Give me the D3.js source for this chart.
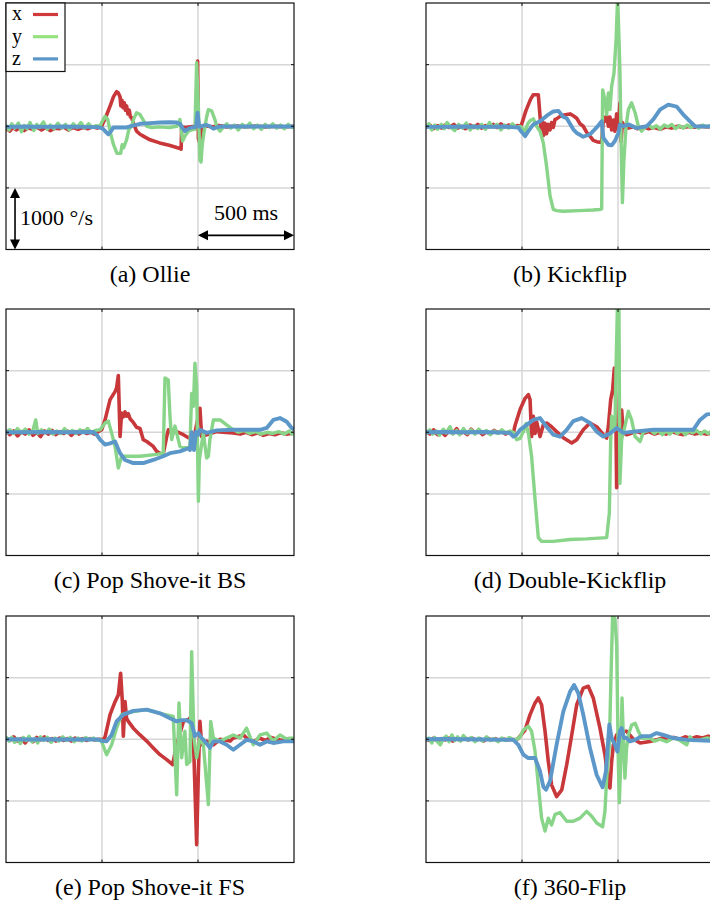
<!DOCTYPE html>
<html>
<head>
<meta charset="utf-8">
<script src="https://cdn.jsdelivr.net/npm/d3@7"></script>
<style>
  body { margin: 0; background: #fff; }
  svg { display: block; font-family: "Liberation Serif", "DejaVu Serif", serif; }
</style>
</head>
<body>
<svg id="chart" width="710" height="903"></svg>
<script>
// gyro traces, [time in ms, rate in deg/s]

// (a) Ollie
var ollieX = [[0,-30],[20,-80],[35,-20],[55,-60],[75,-10],[95,-70],[115,-30],[140,-50],[160,-10],[185,-60],[205,-20],[230,-70],[255,-30],[280,-40],[300,-10],[325,-60],[350,-20],[375,-50],[400,-20],[425,-40],[450,-10],[475,-30],[490,-10],
  [498,0],[520,150],[545,350],[560,480],[576,560],[585,540],[594,480],[598,330],[604,420],[610,300],[616,380],[622,260],[628,330],[635,200],[642,260],[648,150],[654,140],[665,40],[680,-80],[698,-130],[715,-160],[750,-220],[800,-270],[850,-310],[906,-360],[912,-370],[915,-10],[935,-20],[960,-10],[985,0],[995,-30],[998,1060],[1002,-200],[1008,-260],[1013,-160],[1020,-20],[1030,10],[1050,0],
  [1080,-10],[1110,10],[1150,-10],[1200,5],[1250,-10],[1300,5],[1350,-10],[1400,0],[1450,-10],[1500,0]];
var ollieY = [[0,20],[15,-60],[30,40],[45,-30],[65,50],[80,-90],[95,10],[110,-40],[125,60],[145,-70],[160,30],[175,-20],[195,70],[215,-50],[230,20],[250,-40],[270,50],[290,-30],[310,30],[330,-60],[350,40],[370,-20],[390,60],[410,-30],[430,40],[450,-20],[470,10],[490,0],
  [498,60],[516,160],[530,110],[545,-120],[560,-300],[578,-440],[597,-440],[605,-300],[612,-350],[628,-220],[640,-50],[654,0],[665,120],[680,220],[698,190],[715,100],[733,0],[760,-20],[800,-10],[850,-20],[890,0],[906,110],[920,-240],[932,-160],[950,-80],[967,-60],[984,-50],[993,1030],[1002,300],[1010,-550],[1016,-580],[1022,-300],[1031,-100],[1045,150],[1054,270],[1071,250],[1089,100],[1097,0],[1115,-80],[1130,-20],
  [1150,40],[1170,-30],[1190,20],[1210,-60],[1230,30],[1250,-20],[1270,50],[1290,-40],[1310,20],[1330,-50],[1350,30],[1370,-20],[1390,40],[1410,-30],[1430,20],[1450,-40],[1470,30],[1490,-20],[1500,0]];
var ollieZ = [[0,-10],[100,-5],[200,-10],[300,-5],[400,-10],[480,-15],[505,-40],[520,-90],[533,-130],[545,-90],[559,-20],[594,-20],[628,-20],[660,10],[698,40],[750,50],[802,60],[854,65],[889,60],[906,40],[920,-30],[932,-80],[950,-40],[967,-20],[990,-10],[998,220],[1004,40],[1010,-10],[1028,10],[1045,20],[1062,0],[1080,-40],[1097,-20],[1115,-5],[1200,-5],[1300,-5],[1400,-5],[1500,-5]];

// (b) Kickflip
var kickflipX = [[0,-20],[20,20],[40,-40],[60,10],[80,-30],[100,20],[120,-20],[145,30],[165,-30],[185,0],[205,-40],[230,20],[250,-20],[270,30],[290,-30],[310,10],[330,-10],[350,30],[370,-20],[390,40],[410,-10],[430,20],[455,-10],[475,10],[490,0],
  [498,30],[520,250],[545,440],[559,510],[585,510],[594,160],[600,-100],[606,80],[612,-150],[620,50],[628,-120],[637,30],[646,-60],[654,60],[663,-20],[672,110],[680,120],[698,160],[715,180],[733,190],[750,200],[767,170],[785,130],[802,40],[819,0],[837,-100],[854,-160],[871,-230],[889,-250],[906,-260],[915,-250],[924,150],[932,80],[941,170],[950,0],[958,150],[967,-60],[976,100],[984,-80],[993,200],[1002,-50],[1010,380],[1016,-250],[1023,60],[1036,-20],[1054,-30],
  [1080,-10],[1100,-40],[1130,-10],[1160,-40],[1190,-20],[1220,-50],[1250,-10],[1280,-30],[1310,0],[1340,-20],[1370,-5],[1400,-15],[1430,0],[1460,-10],[1500,0]];
var kickflipY = [[0,-30],[15,40],[30,-60],[45,20],[60,-50],[80,30],[95,-40],[110,60],[130,-20],[150,-70],[170,30],[190,-30],[210,50],[230,-60],[250,10],[270,-40],[290,30],[310,-50],[330,60],[350,-20],[370,30],[390,-60],[410,20],[430,-30],[450,40],[470,-20],[490,0],
  [498,-20],[516,-80],[530,40],[542,90],[559,120],[576,0],[594,-80],[611,-270],[628,-650],[646,-1130],[663,-1350],[680,-1370],[715,-1380],[800,-1370],[870,-1360],[906,-1350],[915,-1340],[920,590],[932,430],[941,190],[950,540],[958,270],[967,650],[979,860],[990,1400],[998,2100],[1007,1240],[1010,890],[1016,-220],[1023,-1240],[1031,-540],[1042,0],[1054,270],[1071,380],[1089,220],[1106,0],[1123,-80],[1140,-20],
  [1160,20],[1180,-30],[1200,10],[1220,-50],[1240,20],[1260,-10],[1280,30],[1300,-40],[1320,10],[1340,-30],[1360,20],[1380,-20],[1400,10],[1420,-30],[1440,20],[1460,-10],[1480,10],[1500,0]];
var kickflipZ = [[0,-10],[100,-10],[200,-5],[300,-10],[400,-5],[481,-20],[490,-60],[516,-160],[533,-80],[559,30],[594,80],[637,190],[663,240],[689,250],[715,150],[733,130],[767,-50],[785,-110],[819,-170],[854,-130],[889,-20],[915,80],[924,-190],[950,-300],[967,-310],[984,-240],[1002,-110],[1010,30],[1028,0],[1054,30],[1097,-30],[1149,0],[1184,110],[1219,270],[1262,350],[1305,320],[1340,190],[1375,80],[1401,0],[1450,-5],[1500,-5]];

// (c) Pop Shove-it BS
var shoveBsX = [[0,30],[20,-40],[40,20],[60,-60],[80,10],[100,-30],[120,40],[140,-50],[160,0],[180,-70],[200,20],[220,-30],[240,30],[260,-40],[280,10],[300,-20],[320,20],[340,-50],[360,10],[380,-30],[400,20],[420,-20],[440,0],[460,-30],[480,10],[498,40],
  [516,200],[542,530],[568,660],[576,720],[585,920],[594,-70],[602,310],[611,250],[620,330],[628,260],[637,300],[646,220],[663,160],[680,80],[698,60],[715,-120],[733,-150],[767,-230],[785,-310],[802,-340],[819,-350],[837,-70],[846,40],[863,-10],[889,10],[924,-40],[950,-90],[967,-70],[984,-10],[1010,390],[1019,-70],[1045,-40],[1097,10],[1184,-10],
  [1220,-30],[1250,0],[1280,-40],[1310,-10],[1340,-50],[1370,-20],[1400,-40],[1430,-10],[1460,-30],[1500,-10]];
var shoveBsY = [[0,0],[20,40],[40,-20],[60,60],[80,-10],[100,50],[120,-30],[140,30],[155,200],[165,-20],[185,40],[205,-10],[225,50],[245,-30],[265,20],[285,-20],[305,60],[325,-10],[345,30],[365,-20],[385,40],[405,0],[425,60],[445,-10],[465,30],[490,40],
  [516,150],[533,180],[550,-10],[568,-230],[585,-580],[602,-390],[628,-390],[698,-390],[785,-360],[819,-340],[828,880],[845,850],[854,260],[863,-120],[880,100],[906,-230],[924,-250],[958,-230],[967,630],[976,420],[984,1120],[993,740],[1002,-1120],[1007,-450],[1028,-10],[1045,-420],[1054,-390],[1062,-120],[1080,200],[1115,200],[1149,120],[1184,40],
  [1210,0],[1240,30],[1270,-20],[1300,10],[1330,-30],[1360,0],[1390,-20],[1420,10],[1450,-30],[1475,20],[1490,-30],[1500,0]];
var shoveBsZ = [[0,0],[100,0],[200,5],[300,0],[455,5],[472,-40],[490,-120],[516,-200],[542,-180],[568,-150],[594,-340],[620,-450],[663,-500],[715,-500],[767,-450],[819,-390],[854,-340],[906,-310],[950,-260],[958,-290],[967,0],[979,-290],[990,10],[1002,-40],[1010,40],[1045,-10],[1097,30],[1184,40],[1323,40],[1358,70],[1392,200],[1427,230],[1462,170],[1488,70],[1500,40]];

// (d) Double-Kickflip
var doubleX = [[0,20],[20,-30],[40,40],[60,-40],[80,10],[100,-50],[120,30],[140,-20],[160,60],[175,-30],[195,10],[215,-40],[235,50],[255,-20],[275,20],[295,-40],[315,10],[335,-30],[355,30],[375,-10],[395,20],[415,-30],[435,10],[455,-20],
  [463,100],[490,370],[516,550],[533,610],[542,530],[550,-70],[559,260],[568,-20],[576,170],[594,-70],[611,120],[628,150],[654,90],[680,10],[715,-90],[759,-175],[785,-120],[819,40],[854,150],[889,90],[924,-40],[941,-95],[950,100],[962,530],[972,690],[981,1040],[988,530],[993,-900],[1002,-290],[1010,200],[1019,360],[1028,-10],[1045,-40],[1097,10],
  [1130,-20],[1160,10],[1190,-30],[1220,0],[1250,-30],[1280,10],[1310,-20],[1340,-40],[1370,0],[1400,-30],[1430,-10],[1460,-30],[1500,-10]];
var doubleY = [[0,-20],[20,40],[35,-30],[55,20],[70,-50],[90,50],[105,-10],[125,90],[140,-30],[160,30],[175,-40],[195,60],[215,-20],[235,40],[255,-30],[275,50],[295,-10],[315,30],[335,-40],[355,20],[375,-20],[395,40],[415,-10],[440,20],[455,0],
  [472,-120],[490,-100],[507,10],[521,140],[533,-10],[550,-390],[568,-1090],[585,-1710],[602,-1770],[663,-1770],[750,-1740],[837,-1730],[941,-1710],[955,-1310],[962,-120],[967,260],[976,200],[984,40],[990,1070],[997,2060],[1005,2000],[1010,-830],[1019,-120],[1036,100],[1054,340],[1071,200],[1089,-70],[1115,-150],[1132,0],[1167,40],
  [1190,-20],[1210,30],[1230,-40],[1250,20],[1270,-30],[1290,40],[1310,-20],[1330,30],[1350,-40],[1370,20],[1390,-10],[1410,30],[1430,-30],[1450,20],[1470,-20],[1490,30],[1500,0]];
var doubleZ = [[0,0],[100,5],[200,0],[300,5],[437,-10],[455,-70],[472,-40],[490,40],[524,120],[559,200],[594,230],[628,90],[663,-40],[698,-70],[733,40],[767,180],[811,230],[854,150],[889,10],[924,-70],[958,-20],[993,70],[1028,-10],[1080,10],[1184,40],[1323,40],[1392,40],[1427,200],[1462,290],[1500,300]];

// (e) Pop Shove-it FS
var shoveFsX = [[0,20],[20,-20],[40,40],[60,-30],[80,10],[100,-60],[120,20],[140,-40],[160,30],[180,-10],[200,40],[220,-20],[240,10],[260,-30],[280,20],[300,-20],[320,10],[340,-30],[360,20],[380,-10],[400,10],[420,-20],[440,10],[460,-10],[490,0],
  [507,-10],[516,40],[542,400],[568,610],[585,720],[597,1070],[606,610],[611,50],[620,610],[628,340],[637,290],[663,180],[698,70],[733,-30],[767,-140],[802,-250],[837,-330],[868,-410],[875,-300],[889,-90],[924,290],[950,320],[967,370],[976,20],[993,-1710],[1002,-520],[1010,290],[1019,-90],[1045,-30],[1080,-90],[1115,0],[1167,-30],[1184,20],[1236,70],
  [1260,0],[1290,-40],[1320,20],[1350,-20],[1380,30],[1410,0],[1440,-20],[1470,10],[1500,-10]];
var shoveFsY = [[0,40],[15,-30],[30,30],[45,-50],[60,10],[75,-70],[90,30],[105,-20],[120,50],[135,-40],[150,10],[165,-60],[180,40],[195,-20],[215,30],[235,-50],[255,20],[275,-30],[295,40],[315,-20],[335,30],[355,-40],[375,20],[395,-30],[415,30],[435,-10],[455,20],[475,-20],[490,0],
  [498,-40],[524,-250],[550,-90],[576,180],[602,400],[663,450],[733,480],[802,420],[871,370],[889,-900],[901,590],[915,-300],[932,130],[941,-410],[958,-360],[967,1420],[979,20],[993,-300],[1010,20],[1028,-90],[1054,-1060],[1066,290],[1080,20],[1115,-30],[1149,20],[1184,70],[1219,20],[1253,180],[1288,-90],[1323,70],[1358,100],[1392,-30],[1427,70],[1462,0],[1488,20],[1500,0]];
var shoveFsZ = [[0,0],[100,-5],[200,0],[300,-5],[481,-5],[498,-25],[524,-35],[550,70],[576,290],[611,400],[663,460],[733,480],[802,420],[854,340],[889,290],[915,310],[941,310],[967,260],[984,50],[1002,100],[1019,20],[1036,-35],[1062,-140],[1080,-35],[1115,-35],[1149,-90],[1184,-170],[1219,-90],[1253,-10],[1288,-35],[1323,-90],[1358,-35],[1392,-60],[1444,-35],[1500,-35]];

// (f) 360-Flip
var flip360X = [[0,0],[20,-20],[40,20],[60,-30],[80,10],[100,-10],[120,20],[140,-30],[160,10],[180,-20],[200,30],[220,-10],[240,20],[260,-20],[280,10],[300,-30],[320,20],[340,-10],[360,10],[380,-20],[400,10],[420,-10],[440,0],[472,-10],
  [490,50],[516,150],[542,400],[568,590],[585,670],[602,560],[620,130],[637,-360],[654,-740],[680,-930],[707,-820],[733,-410],[759,70],[785,560],[819,830],[845,860],[871,670],[906,180],[932,-250],[950,-710],[958,-790],[967,-360],[976,-90],[993,70],[1010,130],[1045,130],[1080,0],[1115,-60],[1167,-35],
  [1200,-10],[1230,20],[1260,-20],[1290,30],[1320,0],[1350,40],[1380,10],[1410,40],[1440,20],[1470,50],[1500,30]];
var flip360Y = [[0,-20],[15,20],[30,-60],[45,30],[60,-40],[75,-90],[90,10],[105,50],[120,-40],[135,70],[150,-20],[165,40],[180,-30],[195,60],[215,-10],[235,30],[255,-40],[275,20],[295,-30],[315,40],[335,-20],[355,10],[375,-40],[395,20],[415,-20],[435,30],[455,-10],[472,0],
  [490,40],[507,150],[533,210],[550,130],[568,-200],[585,-740],[602,-1280],[620,-1490],[637,-1280],[654,-1390],[672,-1220],[698,-1190],[733,-1330],[767,-1330],[802,-1280],[837,-1170],[863,-1250],[889,-1360],[920,-1420],[932,-1170],[941,-630],[955,-90],[963,940],[972,2020],[984,1960],[993,1530],[1002,-410],[1007,-1030],[1014,-410],[1021,670],[1028,20],[1036,-630],[1045,-140],[1054,70],[1071,230],[1089,260],[1106,130],[1123,20],[1167,20],
  [1190,-30],[1219,0],[1253,-40],[1288,20],[1323,-20],[1358,-90],[1375,40],[1392,-20],[1427,-10],[1462,20],[1500,0]];
var flip360Z = [[0,0],[100,5],[200,0],[300,-5],[455,-10],[481,-90],[507,-250],[533,-305],[568,-305],[594,-520],[611,-770],[625,-820],[646,-680],[680,-90],[715,450],[750,770],[771,880],[793,750],[819,400],[854,-140],[889,-580],[920,-780],[937,-520],[955,240],[967,20],[984,-90],[997,-200],[1010,130],[1019,180],[1031,20],[1045,20],[1062,-35],[1089,-10],[1123,50],[1167,50],[1201,100],[1236,70],[1288,20],[1358,-10],[1479,-25],[1500,-25]];

var captions = ['(a) Ollie', '(b) Kickflip', '(c) Pop Shove-it BS', '(d) Double-Kickflip', '(e) Pop Shove-it FS', '(f) 360-Flip'];
var axisNames = ['x', 'y', 'z'];
var timeTicks = [500, 1000];
var rateTicks = [-1000, 0, 1000];

var panels = [
  [ollieX, ollieY, ollieZ],
  [kickflipX, kickflipY, kickflipZ],
  [shoveBsX, shoveBsY, shoveBsZ],
  [doubleX, doubleY, doubleZ],
  [shoveFsX, shoveFsY, shoveFsZ],
  [flip360X, flip360Y, flip360Z]
];

var colors = ['#c8373a', '#88d488', '#5b97c9'];
var legendColors = ['#d03a3a', '#96e27e', '#5b97c9'];
var widths = [3.6, 3.4, 3.9];

var W = 288, H = 246.5;
var colX = [6, 426], rowY = [3, 309, 616];

var svg = d3.select('#chart');

var x = d3.scaleLinear().domain([0, 1500]).range([0, W]);
var y = d3.scaleLinear().domain([-2000, 2000]).range([H, 0]);

var line = d3.line()
  .x(d => x(d[0]))
  .y(d => y(d[1]));

function arrowHead(g, tipX, tipY, dx, dy) {
  // dx,dy = unit direction the arrow points to
  var len = 10, half = 5;
  var bx = tipX - dx * len, by = tipY - dy * len;
  var pts = [[tipX, tipY], [bx - dy * half, by + dx * half], [bx + dy * half, by - dx * half]];
  g.append('path')
    .attr('d', 'M' + pts.map(p => p.join(',')).join('L') + 'Z')
    .attr('fill', '#000');
}

panels.forEach(function(series, i) {
  var col = i % 2, row = Math.floor(i / 2);
  var g = svg.append('g')
    .attr('transform', 'translate(' + colX[col] + ',' + rowY[row] + ')');

  g.append('clipPath').attr('id', 'clip' + i)
    .append('rect').attr('width', W).attr('height', H);

  // grid
  g.selectAll('.vgrid').data(timeTicks).enter().append('line')
    .attr('x1', d => x(d)).attr('x2', d => x(d))
    .attr('y1', 0).attr('y2', H)
    .attr('stroke', '#d6d6d6').attr('stroke-width', 1.5);
  g.selectAll('.hgrid').data(rateTicks).enter().append('line')
    .attr('x1', 0).attr('x2', W)
    .attr('y1', d => y(d)).attr('y2', d => y(d))
    .attr('stroke', '#d6d6d6').attr('stroke-width', 1.5);

  // traces
  var traces = g.append('g').attr('clip-path', 'url(#clip' + i + ')');
  series.forEach(function(s, k) {
    traces.append('path')
      .datum(s)
      .attr('d', line)
      .attr('fill', 'none')
      .attr('stroke', colors[k])
      .attr('stroke-width', widths[k])
      .attr('stroke-linejoin', 'round');
  });

  // frame
  g.append('rect')
    .attr('width', W).attr('height', H)
    .attr('fill', 'none').attr('stroke', '#111').attr('stroke-width', 1.2);

  // inward ticks
  timeTicks.forEach(function(t) {
    g.append('line').attr('x1', x(t)).attr('x2', x(t)).attr('y1', 0).attr('y2', 3).attr('stroke', '#111');
    g.append('line').attr('x1', x(t)).attr('x2', x(t)).attr('y1', H - 3).attr('y2', H).attr('stroke', '#111');
  });
  rateTicks.forEach(function(v) {
    g.append('line').attr('x1', 0).attr('x2', 3).attr('y1', y(v)).attr('y2', y(v)).attr('stroke', '#111');
    g.append('line').attr('x1', W - 3).attr('x2', W).attr('y1', y(v)).attr('y2', y(v)).attr('stroke', '#111');
  });

  // caption
  g.append('text')
    .attr('x', W / 2).attr('y', H + 32)
    .attr('text-anchor', 'middle')
    .attr('font-size', 24)
    .text(captions[i]);

  if (i === 0) {
    // legend
    var lg = g.append('g');
    lg.append('rect').attr('x', 0).attr('y', 0).attr('width', 59).attr('height', 68.5)
      .attr('fill', '#fff').attr('stroke', '#111').attr('stroke-width', 1.2);
    axisNames.forEach(function(n, k) {
      lg.append('text').attr('x', 6).attr('y', 17 + k * 22.5)
        .attr('font-size', 20).text(n);
      lg.append('line').attr('x1', 27).attr('x2', 52)
        .attr('y1', 11.5 + k * 22.2).attr('y2', 11.5 + k * 22.2)
        .attr('stroke', legendColors[k]).attr('stroke-width', 3.2);
    });

    // scale bars
    var ax = x(47);
    g.append('line').attr('x1', ax).attr('x2', ax)
      .attr('y1', y(-1000) + 6).attr('y2', y(-2000) - 6)
      .attr('stroke', '#000').attr('stroke-width', 1.6);
    arrowHead(g, ax, y(-1000), 0, -1);
    arrowHead(g, ax, y(-2000), 0, 1);
    g.append('text').attr('x', ax + 5).attr('y', y(-1000) + 37)
      .attr('font-size', 22).text('1000 °/s');

    var ay = y(-1770);
    g.append('line').attr('x1', x(1000) + 6).attr('x2', x(1500) - 6)
      .attr('y1', ay).attr('y2', ay)
      .attr('stroke', '#000').attr('stroke-width', 1.6);
    arrowHead(g, x(1000), ay, -1, 0);
    arrowHead(g, x(1500), ay, 1, 0);
    g.append('text').attr('x', x(1250)).attr('y', ay - 15)
      .attr('text-anchor', 'middle')
      .attr('font-size', 22).text('500 ms');
  }
});
</script>
</body>
</html>
